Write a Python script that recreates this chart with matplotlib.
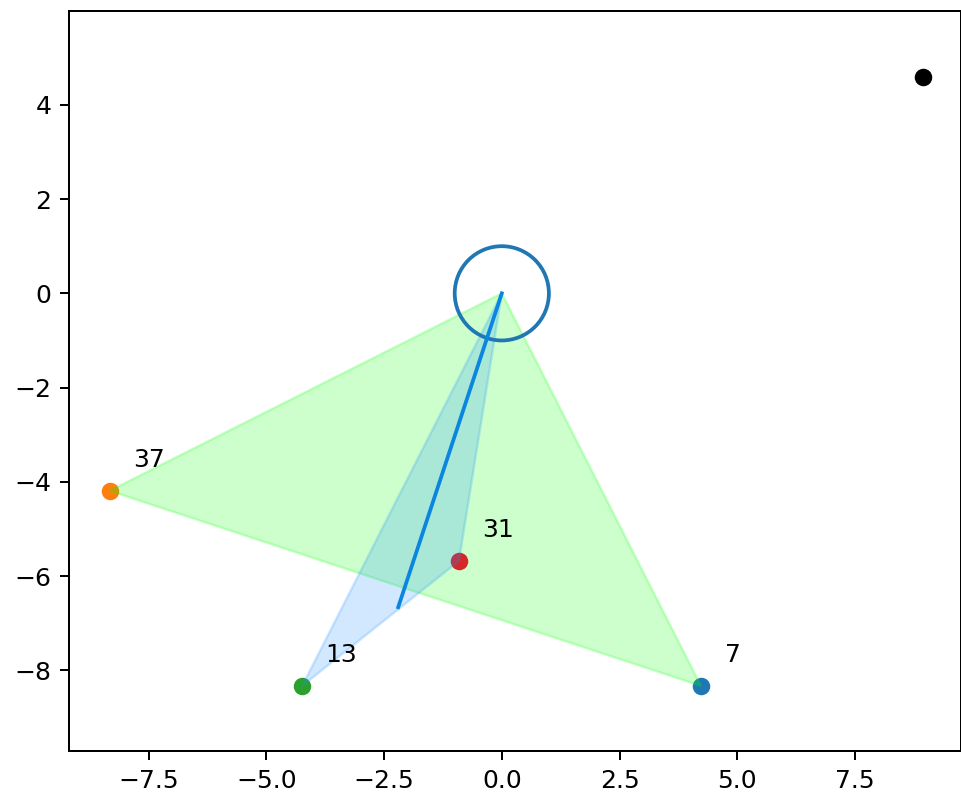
import matplotlib
matplotlib.use('Agg')
import matplotlib.pyplot as plt

# points
pt_labels = ['7', '37', '13', '31']
pt_x = [4.23, -8.33, -4.24, -0.91]
pt_y = [-8.33, -4.19, -8.33, -5.68]
pt_colors = ['C0', 'C1', 'C2', 'C3']

far_x, far_y = 8.94, 4.59

# big triangle: origin, 37, 7 / small one: origin, 13, 31
big_tri_x = [0.0, -8.33, 4.23]
big_tri_y = [0.0, -4.19, -8.33]
small_tri_x = [0.0, -4.24, -0.91]
small_tri_y = [0.0, -8.33, -5.68]

seg_x = [0.0, -2.20]
seg_y = [0.0, -6.66]

circle_r = 1.0

fig = plt.figure(figsize=(961/180, 795/180), dpi=180)
ax = fig.add_axes([69/961, 44/795, 891.5/961, 740/795])

ax.plot(far_x, far_y, 'ko')

# each pair of points goes down, then its triangle on top of it
for i in range(len(pt_x)):
    ax.scatter(pt_x[i], pt_y[i], c=pt_colors[i])
    ax.text(pt_x[i] + 0.5, pt_y[i] + 0.5, pt_labels[i])
    if i == 1:
        ax.fill(big_tri_x, big_tri_y, color='lime', alpha=0.2)
    if i == 3:
        ax.fill(small_tri_x, small_tri_y, color='dodgerblue', alpha=0.2)

ax.add_patch(plt.Circle((0, 0), circle_r, fill=False, color='C0', lw=1.5))
ax.plot(seg_x, seg_y, color='#0a86e0', lw=1.5)

ax.set_xlim(-9.19, 9.74)
ax.set_ylim(-9.71, 5.99)

fig.savefig('out.png', dpi=180)
